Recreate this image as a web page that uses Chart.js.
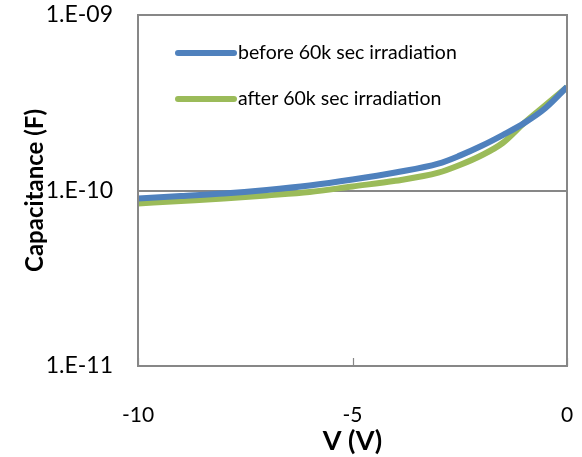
<!DOCTYPE html>
<html>
<head>
<meta charset="utf-8">
<script src="https://cdn.jsdelivr.net/npm/chart.js@4"></script>
<style>
  html, body { margin: 0; padding: 0; background: #fff; }
  #wrap { width: 582px; height: 457px; }
</style>
</head>
<body>
<div id="wrap"><canvas id="cv" width="582" height="457"></canvas></div>
<script>
// --- data ---
const voltage = [-10, -9, -8, -7, -6, -5, -4, -3, -2.5, -2, -1.5, -1, -0.5, 0];
const before = [9.0e-11, 9.3e-11, 9.61e-11, 1.007e-10, 1.068e-10, 1.155e-10, 1.266e-10, 1.421e-10, 1.58e-10, 1.793e-10, 2.07e-10, 2.42e-10, 2.952e-10, 3.888e-10];
const after = [8.43e-11, 8.71e-11, 9.0e-11, 9.37e-11, 9.8e-11, 1.055e-10, 1.136e-10, 1.263e-10, 1.397e-10, 1.583e-10, 1.865e-10, 2.425e-10, 3.07e-10, 3.888e-10];
const seriesNames = ["before 60k sec irradiation", "after 60k sec irradiation"];
const xTicks = [-10, -5, 0];
const yTicks = [1e-11, 1e-10, 1e-9];

const BLUE = "#4f81bd";
const GREEN = "#9bbb59";
const AXIS = "#878787";
const FONT = "Lato, 'Open Sans', sans-serif";

function toPoints(ys) {
  return voltage.map((v, i) => ({ x: v, y: ys[i] }));
}

function expLabel(v) {
  const e = Math.round(Math.log10(v));
  return "1.E" + (e < 0 ? "-" : "+") + String(Math.abs(e)).padStart(2, "0");
}

// box around plot area, inside tick marks on x, legend inside the plot
const boxPlugin = {
  id: "box",
  afterDraw(chart) {
    const { ctx, chartArea: a } = chart;
    const xs = chart.scales.x;
    ctx.save();
    ctx.strokeStyle = AXIS;
    ctx.lineWidth = 2;
    ctx.strokeRect(a.left, a.top, a.right - a.left, a.bottom - a.top);
    ctx.lineWidth = 1.2;
    xTicks.forEach(t => {
      const px = Math.round(xs.getPixelForValue(t)) + 0.5;
      ctx.beginPath();
      ctx.moveTo(px, a.bottom);
      ctx.lineTo(px, a.bottom - 8);
      ctx.stroke();
    });

    // legend
    const lx = a.left + 40, ly = a.top + 38, gap = 46;
    chart.data.datasets.forEach((ds, i) => {
      const y = ly + i * gap;
      ctx.strokeStyle = ds.borderColor;
      ctx.lineWidth = 6;
      ctx.lineCap = "round";
      ctx.beginPath();
      ctx.moveTo(lx, y);
      ctx.lineTo(lx + 56, y);
      ctx.stroke();
      ctx.fillStyle = "#000";
      ctx.font = "19.5px " + FONT;
      ctx.textBaseline = "middle";
      ctx.textAlign = "left";
      ctx.fillText(ds.label, lx + 60, y);
    });
    ctx.restore();
  }
};

new Chart(document.getElementById("cv"), {
  type: "line",
  data: {
    datasets: [
      {
        label: seriesNames[0],
        data: toPoints(before),
        borderColor: BLUE,
        backgroundColor: BLUE,
        borderWidth: 6,
        pointRadius: 0,
        cubicInterpolationMode: "monotone"
      },
      {
        label: seriesNames[1],
        data: toPoints(after),
        borderColor: GREEN,
        backgroundColor: GREEN,
        borderWidth: 6,
        pointRadius: 0,
        cubicInterpolationMode: "monotone"
      }
    ]
  },
  options: {
    responsive: false,
    animation: false,
    devicePixelRatio: 1,
    layout: { padding: { top: 15, right: 15, left: 0, bottom: 0 } },
    plugins: {
      legend: { display: false },
      tooltip: { enabled: false }
    },
    scales: {
      x: {
        type: "linear",
        min: -10,
        max: 0,
        afterBuildTicks: s => { s.ticks = xTicks.map(v => ({ value: v })); },
        afterFit: s => { s.height = 91; s.paddingLeft = 0; s.paddingRight = 0; },
        grid: { display: false, drawTicks: false },
        border: { display: false },
        ticks: {
          padding: 37,
          color: "#000",
          font: { family: FONT, size: 21 },
          maxRotation: 0,
          callback: v => String(v)
        },
        title: {
          display: true,
          text: "V (V)",
          color: "#000",
          font: { family: FONT, size: 27, weight: "bold" },
          padding: { top: 0, bottom: 0 }
        }
      },
      y: {
        type: "logarithmic",
        min: 1e-11,
        max: 1e-9,
        afterBuildTicks: s => { s.ticks = yTicks.map(v => ({ value: v })); },
        afterFit: s => { s.width = 138; s.paddingTop = 0; s.paddingBottom = 0; },
        grid: { color: AXIS, lineWidth: 2, drawTicks: false },
        border: { display: false },
        ticks: {
          padding: 25,
          color: "#000",
          font: { family: FONT, size: 23 },
          callback: v => expLabel(v)
        },
        title: {
          display: true,
          text: "Capacitance (F)",
          color: "#000",
          font: { family: FONT, size: 24, weight: "bold" },
          padding: { top: 21, bottom: 0 }
        }
      }
    }
  },
  plugins: [boxPlugin]
});
</script>
</body>
</html>
